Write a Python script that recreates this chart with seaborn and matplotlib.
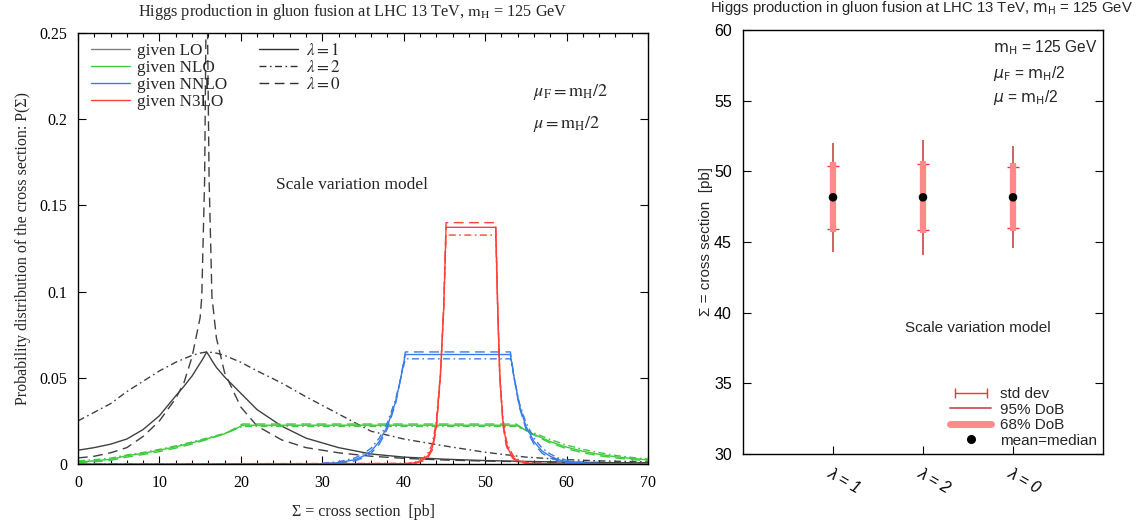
import numpy as np
import pandas as pd
import matplotlib
matplotlib.use('Agg')
import matplotlib.pyplot as plt
import seaborn as sns
from matplotlib.lines import Line2D
from matplotlib.legend_handler import HandlerLine2D
from matplotlib.font_manager import FontProperties

# ---------------- data: left panel (probability distributions) ----------------
x_lo = [0, 2, 4, 6, 8, 10, 12, 13, 14, 15, 15.2, 15.55, 15.8, 16.1, 16.45, 17, 18, 20, 22, 25,
        28, 32, 36, 40, 45, 50, 55, 60, 65, 70]
lo_lam1 = [0.0080, 0.0095, 0.0115, 0.0145, 0.0200, 0.0280, 0.0395, 0.0450, 0.0510, 0.0585,
           0.0600, 0.0628, 0.0650, 0.0628, 0.0600, 0.0560, 0.0505, 0.0410, 0.0315, 0.0220,
           0.0150, 0.0095, 0.0058, 0.0040, 0.0028, 0.0020, 0.0015, 0.0011, 0.0008, 0.0006]
lo_lam2 = [0.0250, 0.0300, 0.0350, 0.0420, 0.0480, 0.0540, 0.0590, 0.0610, 0.0630, 0.0643,
           0.0645, 0.0648, 0.0650, 0.0649, 0.0647, 0.0643, 0.0630, 0.0590, 0.0540, 0.0470,
           0.0390, 0.0290, 0.0190, 0.0145, 0.0105, 0.0068, 0.0040, 0.0025, 0.0017, 0.0012]
lo_lam0 = [0.0035, 0.0045, 0.0065, 0.0095, 0.0160, 0.0250, 0.0380, 0.0470, 0.0620, 0.0850,
           0.0970, 0.1650, 0.3000, 0.1650, 0.0970, 0.0730, 0.0530, 0.0330, 0.0220, 0.0140,
           0.0095, 0.0065, 0.0045, 0.0033, 0.0023, 0.0017, 0.0013, 0.0010, 0.0008, 0.0006]

x_nlo = [0, 2, 4, 6, 8, 10, 12, 14, 16, 18, 19, 20.2, 30, 40, 53.8, 55, 56, 58, 60, 62, 64, 66, 68, 70]
nlo_lam1 = [0.0012, 0.0018, 0.0027, 0.0048, 0.0062, 0.0080, 0.0100, 0.0123, 0.0148, 0.0175, 0.0195,
            0.0225, 0.0225, 0.0225, 0.0225, 0.0195, 0.0172, 0.0130, 0.0098, 0.0074, 0.0056,
            0.0042, 0.0032, 0.0024]
nlo_lam2 = [0.0018, 0.0025, 0.0034, 0.0052, 0.0067, 0.0085, 0.0105, 0.0128, 0.0152, 0.0178, 0.0196,
            0.0218, 0.0218, 0.0218, 0.0218, 0.0198, 0.0180, 0.0142, 0.0110, 0.0085, 0.0066,
            0.0050, 0.0038, 0.0029]
nlo_lam0 = [0.0008, 0.0013, 0.0021, 0.0040, 0.0055, 0.0072, 0.0092, 0.0116, 0.0144, 0.0175, 0.0200,
            0.0232, 0.0232, 0.0232, 0.0232, 0.0195, 0.0168, 0.0122, 0.0089, 0.0065, 0.0048,
            0.0035, 0.0026, 0.0019]

x_nnlo = [30, 32, 34, 35, 36, 37, 38, 39, 39.6, 40.2, 46, 53.1, 53.6, 54.2, 55, 56, 57, 58, 59, 60, 62, 64]
nnlo_lam1 = [0.0002, 0.0008, 0.0025, 0.0045, 0.0075, 0.0130, 0.0220, 0.0360, 0.0490, 0.0635, 0.0635,
             0.0635, 0.0490, 0.0340, 0.0220, 0.0130, 0.0075, 0.0045, 0.0025, 0.0014, 0.0005, 0.0002]
nnlo_lam2 = [0.0005, 0.0013, 0.0035, 0.0058, 0.0092, 0.0150, 0.0240, 0.0375, 0.0490, 0.0610, 0.0610,
             0.0610, 0.0490, 0.0355, 0.0240, 0.0150, 0.0092, 0.0058, 0.0035, 0.0022, 0.0008, 0.0003]
nnlo_lam0 = [0.0001, 0.0005, 0.0018, 0.0035, 0.0062, 0.0115, 0.0205, 0.0350, 0.0490, 0.0650, 0.0650,
             0.0650, 0.0490, 0.0330, 0.0205, 0.0115, 0.0062, 0.0035, 0.0018, 0.0009, 0.0003, 0.0001]

x_n3lo = [0, 40.5, 41.5, 42.5, 43, 43.5, 44, 44.5, 44.9, 45.2, 48.3, 51.3, 51.55, 51.8, 52.2, 52.6,
          53, 53.5, 54, 55, 56, 70]
n3lo_lam1 = [0.0, 0.0002, 0.0008, 0.0028, 0.0050, 0.0095, 0.0220, 0.0510, 0.0890, 0.1373, 0.1373,
             0.1373, 0.0890, 0.0510, 0.0236, 0.0120, 0.0070, 0.0035, 0.0020, 0.0006, 0.0002, 0.0]
n3lo_lam2 = [0.0, 0.0004, 0.0013, 0.0038, 0.0065, 0.0115, 0.0245, 0.0520, 0.0880, 0.1328, 0.1328,
             0.1328, 0.0880, 0.0520, 0.0255, 0.0138, 0.0085, 0.0045, 0.0027, 0.0009, 0.0003, 0.0]
n3lo_lam0 = [0.0, 0.0001, 0.0005, 0.0020, 0.0040, 0.0080, 0.0200, 0.0500, 0.0900, 0.1400, 0.1400,
             0.1400, 0.0900, 0.0500, 0.0220, 0.0105, 0.0058, 0.0028, 0.0014, 0.0004, 0.0001, 0.0]

orders = ['LO', 'NLO', 'NNLO', 'N3LO']
lams = ['1', '2', '0']

# ---------------- data: right panel (intervals) ----------------
lam_labels = ['λ = 1', 'λ = 2', 'λ = 0']
mean_vals = [48.16, 48.16, 48.16]
std_lo = [45.92, 45.85, 46.01]
std_hi = [50.40, 50.52, 50.28]
dob68_lo = [45.68, 45.61, 45.78]
dob68_hi = [50.64, 50.73, 50.57]
dob95_lo = [44.31, 44.08, 44.55]
dob95_hi = [51.98, 52.22, 51.79]

# ---------------- build long-form table ----------------
series = {
    ('LO', '1'): (x_lo, lo_lam1), ('LO', '2'): (x_lo, lo_lam2), ('LO', '0'): (x_lo, lo_lam0),
    ('NLO', '1'): (x_nlo, nlo_lam1), ('NLO', '2'): (x_nlo, nlo_lam2), ('NLO', '0'): (x_nlo, nlo_lam0),
    ('NNLO', '1'): (x_nnlo, nnlo_lam1), ('NNLO', '2'): (x_nnlo, nnlo_lam2), ('NNLO', '0'): (x_nnlo, nnlo_lam0),
    ('N3LO', '1'): (x_n3lo, n3lo_lam1), ('N3LO', '2'): (x_n3lo, n3lo_lam2), ('N3LO', '0'): (x_n3lo, n3lo_lam0),
}
rows = []
for (o, l), (xs, ys) in series.items():
    for xv, yv in zip(xs, ys):
        rows.append({'x': xv, 'P': yv, 'order': o, 'lam': l})
df = pd.DataFrame(rows)

# ---------------- style ----------------
sns.set_style('ticks')
plt.rcParams['font.family'] = ['Liberation Serif', 'DejaVu Serif']
plt.rcParams['axes.linewidth'] = 1.0
plt.rcParams['axes.edgecolor'] = 'black'

pal = {'LO': '#404040', 'NLO': '#3ccc3c', 'NNLO': '#3a7de6', 'N3LO': '#ff4038'}
leg_cols = {'LO': '#808080', 'NLO': '#3ccc3c', 'NNLO': '#3a7de6', 'N3LO': '#ff4038'}
dash_map = {'1': '', '2': (5, 2.5, 1.2, 2.5), '0': (7, 4)}

fig = plt.figure(figsize=(11.45, 5.25), dpi=100)
ax1 = fig.add_axes([78 / 1145, 1 - 464 / 525, 570 / 1145, 431 / 525])
ax2 = fig.add_axes([743 / 1145, 1 - 454 / 525, 360 / 1145, 424 / 525])

# ---------------- left panel ----------------
sns.lineplot(data=df, x='x', y='P', hue='order', style='lam', palette=pal,
             dashes=dash_map, hue_order=orders, style_order=lams,
             estimator=None, sort=False, legend=False, lw=1.0, ax=ax1)
ax1.set_xlim(0, 70)
ax1.set_ylim(0, 0.25)
ax1.set_xticks(np.arange(0, 71, 10))
ax1.set_xticks(np.arange(0, 71, 2), minor=True)
ax1.set_yticks([0, 0.05, 0.1, 0.15, 0.2, 0.25])
ax1.set_yticklabels(['0', '0.05', '0.1', '0.15', '0.2', '0.25'])
ax1.set_xticklabels([str(v) for v in range(0, 71, 10)])
ax1.tick_params(which='both', direction='in', top=True, right=True, labelsize=11.5, colors='black')
ax1.tick_params(which='major', length=6, width=0.8, pad=8)
ax1.tick_params(which='minor', length=3, width=0.8)
ax1.set_xlabel('Σ = cross section  [pb]', fontsize=11.5, labelpad=9)
ax1.set_ylabel('Probability distribution of the cross section: P(Σ)', fontsize=11.5, labelpad=6)
for s in ax1.spines.values():
    s.set_visible(True)
    s.set_linewidth(1.0)

fig.text(353 / 1145, 1 - 12 / 525,
         r'Higgs production in gluon fusion at LHC 13 TeV, $\mathrm{m_H}$ = 125 GeV',
         ha='center', va='center', fontsize=11.7, math_fontfamily='stix')

ax1.text(0.798, 0.863, r'$\mu_\mathrm{F} = \mathrm{m_H}/2$', transform=ax1.transAxes,
         fontsize=13, va='center', ha='left', math_fontfamily='stix')
ax1.text(0.798, 0.789, r'$\mu = \mathrm{m_H}/2$', transform=ax1.transAxes,
         fontsize=13, va='center', ha='left', math_fontfamily='stix')
ax1.text(0.48, 0.647, 'Scale variation model', transform=ax1.transAxes,
         fontsize=12.5, va='center', ha='center')

serif_prop = FontProperties(family=['Liberation Serif', 'DejaVu Serif'], size=12.3,
                            math_fontfamily='stix')
h_ord = [Line2D([], [], color=leg_cols[o], lw=1.0) for o in orders]
leg1 = ax1.legend(h_ord, ['given ' + o for o in orders], loc='upper left',
                  bbox_to_anchor=(0.005, 1.0), frameon=False, prop=serif_prop,
                  handlelength=2.25, handletextpad=0.45, labelspacing=0.05, borderaxespad=0.2)
ax1.add_artist(leg1)
h_lam = [Line2D([], [], color='#303030', lw=1.0, ls='-'),
         Line2D([], [], color='#303030', lw=1.0, dashes=(5, 2.5, 1.2, 2.5)),
         Line2D([], [], color='#303030', lw=1.0, dashes=(7, 4))]
ax1.legend(h_lam, [r'$\lambda = 1$', r'$\lambda = 2$', r'$\lambda = 0$'], loc='upper left',
           bbox_to_anchor=(0.3, 1.0), frameon=False, prop=serif_prop,
           handlelength=2.25, handletextpad=0.5, labelspacing=0.05, borderaxespad=0.2)

# ---------------- right panel ----------------
pos = np.arange(len(lam_labels))
sans = ['Liberation Sans', 'DejaVu Sans']
ax2.vlines(pos, dob95_lo, dob95_hi, color='#cc5555', lw=1.3, zorder=2)
ax2.errorbar(pos, mean_vals,
             yerr=[np.array(mean_vals) - np.array(std_lo), np.array(std_hi) - np.array(mean_vals)],
             fmt='none', ecolor='#ff3030', elinewidth=1.0, capsize=4.3, capthick=1.0, zorder=3)
ax2.vlines(pos, dob68_lo, dob68_hi, color='#ff8a8a', lw=4.5, zorder=4)
sns.scatterplot(x=pos, y=mean_vals, color='black', s=38, edgecolor='none', zorder=6, ax=ax2)

ax2.set_xlim(-1, 3)
ax2.set_ylim(30, 60)
ax2.set_yticks(np.arange(30, 61, 5))
ax2.set_xticks(pos)
ax2.set_xticklabels(lam_labels, rotation=-30, ha='left', rotation_mode='anchor',
                    family=sans, style='italic', fontsize=11.5)
ax2.tick_params(axis='x', direction='in', length=6, width=0.8, pad=8, colors='black')
ax2.tick_params(axis='y', direction='in', length=6, width=0.8, right=True, left=True,
                labelsize=11.5, pad=8, colors='black')
for t in ax2.get_yticklabels():
    t.set_family(sans)
ax2.set_xlabel('')
ax2.set_ylabel('Σ = cross section  [pb]',
               fontproperties=FontProperties(family='Liberation Sans', size=11))
ax2.yaxis.set_label_coords(-0.082, 0.5)
for s in ax2.spines.values():
    s.set_visible(True)
    s.set_linewidth(1.0)

fig.text(922 / 1145, 1 - 8 / 525,
         r'Higgs production in gluon fusion at LHC 13 TeV, $\mathrm{m_H}$ = 125 GeV',
         ha='center', va='center', fontsize=10.7, family=sans, math_fontfamily='dejavusans')

ax2.text(0.694, 0.958, r'$\mathrm{m_H}$ = 125 GeV', transform=ax2.transAxes, family=sans,
         fontsize=11.2, va='center', ha='left', math_fontfamily='dejavusans')
ax2.text(0.694, 0.897, r'$\mu_\mathrm{F}$ = $\mathrm{m_H}$/2', transform=ax2.transAxes, family=sans,
         fontsize=11.2, va='center', ha='left', math_fontfamily='dejavusans')
ax2.text(0.694, 0.840, r'$\mu$ = $\mathrm{m_H}$/2', transform=ax2.transAxes, family=sans,
         fontsize=11.2, va='center', ha='left', math_fontfamily='dejavusans')
ax2.text(0.45, 0.297, 'Scale variation model', transform=ax2.transAxes, family=sans,
         fontsize=11, va='center', ha='left')

h_std = Line2D([], [], color='#ff3030', lw=1.0, marker='|', markersize=7, mew=1.0)
h95 = Line2D([], [], color='#cc5555', lw=1.3)
h68 = Line2D([], [], color='#ff8a8a', lw=5)
hmean = Line2D([], [], ls='none', marker='o', color='black', markersize=5.5)
ax2.legend([h_std, h95, h68, hmean], ['std dev', '95% DoB', '68% DoB', 'mean=median'],
           handler_map={h_std: HandlerLine2D(numpoints=2), hmean: HandlerLine2D(numpoints=1)},
           loc='lower right', bbox_to_anchor=(1.0, 0.0), frameon=False,
           prop=FontProperties(family=sans, size=11), handlelength=2.7,
           handletextpad=0.55, labelspacing=0.1, borderaxespad=0.02)

fig.savefig('out.png', dpi=100)
